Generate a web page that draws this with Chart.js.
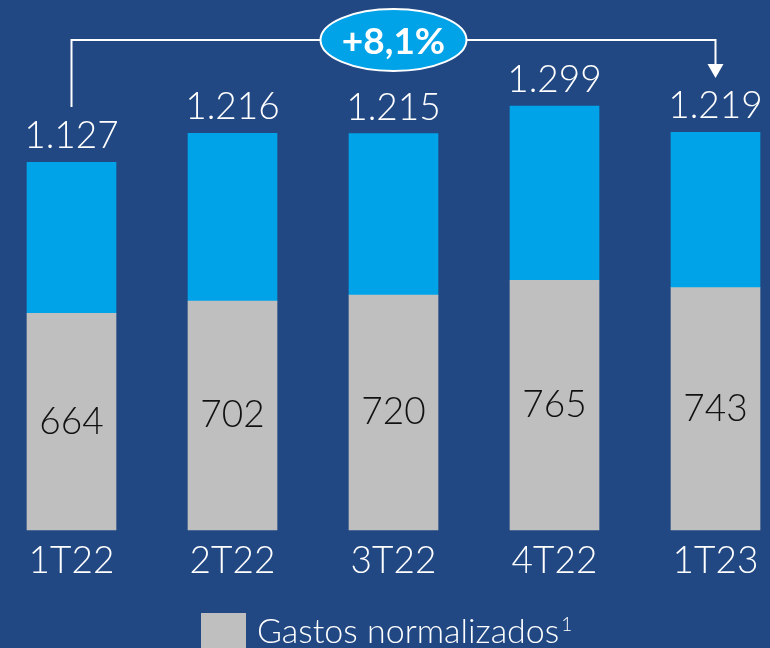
<!DOCTYPE html>
<html lang="es">
<head>
<meta charset="utf-8">
<title>Gastos</title>
<script src="https://cdn.jsdelivr.net/npm/chart.js@4/dist/chart.umd.min.js"></script>
<style>
  html, body { margin: 0; padding: 0; background: #214882; }
  #wrap { width: 770px; height: 648px; }
</style>
</head>
<body>
<div id="wrap"><canvas id="c" width="770" height="648"></canvas></div>
<script>
// datos
var categorias = ['1T22', '2T22', '3T22', '4T22', '1T23'];
var gastosNormalizados = [664, 702, 720, 765, 743];
var otrosGastos = [463, 514, 495, 534, 476];
var totales = [1127, 1216, 1215, 1299, 1219];
var variacion = '+8,1%';

var FONT = "Lato, 'Open Sans', 'Noto Sans', sans-serif";
var AZUL = '#00a3e8';
var GRIS = '#bfbfbf';

var etiquetas = {
  id: 'etiquetas',
  afterDatasetsDraw: function(chart) {
    var ctx = chart.ctx;
    var x = chart.scales.x, y = chart.scales.y;
    ctx.save();
    ctx.textAlign = 'center';

    categorias.forEach(function(cat, i) {
      var px = x.getPixelForValue(i);
      // total encima
      ctx.fillStyle = '#fff';
      ctx.font = '300 37px ' + FONT;
      ctx.textBaseline = 'alphabetic';
      ctx.fillText(totales[i].toLocaleString('de-DE'), px, y.getPixelForValue(totales[i]) - 14);
      // valor gris
      ctx.fillStyle = '#111';
      ctx.textBaseline = 'middle';
      ctx.fillText(gastosNormalizados[i], px, (y.getPixelForValue(0) + y.getPixelForValue(gastosNormalizados[i])) / 2);
      // categoria
      ctx.fillStyle = '#fff';
      ctx.fillText(cat, px, 561);
    });

    // leyenda
    ctx.fillStyle = GRIS;
    ctx.fillRect(201, 613, 45, 40);
    ctx.fillStyle = '#fff';
    ctx.textAlign = 'left';
    ctx.font = '300 34px ' + FONT;
    ctx.textBaseline = 'alphabetic';
    ctx.fillText('Gastos normalizados', 257, 643);
    var w = ctx.measureText('Gastos normalizados').width;
    ctx.font = '300 19px ' + FONT;
    ctx.fillText('1', 257 + w + 2, 631);

    // flecha
    var x0 = x.getPixelForValue(0), x4 = x.getPixelForValue(4);
    ctx.strokeStyle = '#fff';
    ctx.lineWidth = 2;
    ctx.beginPath();
    ctx.moveTo(x0, 107);
    ctx.lineTo(x0, 40);
    ctx.lineTo(x4, 40);
    ctx.lineTo(x4, 66);
    ctx.stroke();
    ctx.fillStyle = '#fff';
    ctx.beginPath();
    ctx.moveTo(x4 - 8, 64);
    ctx.lineTo(x4 + 8, 64);
    ctx.lineTo(x4, 78);
    ctx.closePath();
    ctx.fill();

    // ovalo
    var cx = x.getPixelForValue(2);
    ctx.beginPath();
    ctx.ellipse(cx, 40, 73, 31, 0, 0, Math.PI * 2);
    ctx.fillStyle = AZUL;
    ctx.fill();
    ctx.stroke();
    ctx.fillStyle = '#fff';
    ctx.textAlign = 'center';
    ctx.textBaseline = 'middle';
    ctx.font = 'bold 37px ' + FONT;
    ctx.fillText(variacion, cx, 42);
    ctx.restore();
  }
};

new Chart(document.getElementById('c').getContext('2d'), {
  type: 'bar',
  data: {
    labels: categorias,
    datasets: [
      { label: 'Gastos normalizados', data: gastosNormalizados, backgroundColor: GRIS, barThickness: 89, clip: false },
      { label: 'Otros', data: otrosGastos, backgroundColor: AZUL, barThickness: 89, clip: false }
    ]
  },
  options: {
    responsive: false,
    animation: false,
    layout: { padding: { left: 71.5, right: 54.5, top: 8, bottom: 118 } },
    plugins: { legend: { display: false }, tooltip: { enabled: false } },
    scales: {
      x: { stacked: true, offset: false, display: false },
      y: { stacked: true, display: false, min: 0, max: 1600 }
    }
  },
  plugins: [etiquetas]
});
</script>
</body>
</html>
